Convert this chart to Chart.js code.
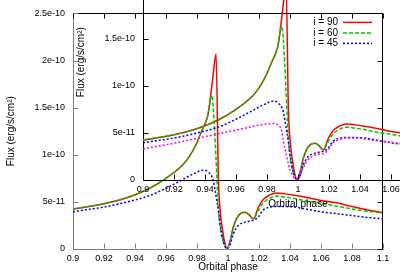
<!DOCTYPE html>
<html>
<head>
<meta charset="utf-8">
<script src="https://cdn.jsdelivr.net/npm/chart.js@4.4.1/dist/chart.umd.min.js"></script>
<style>
  html, body { margin: 0; padding: 0; background: #fff; overflow: hidden; }
  #wrap { position: relative; width: 400px; height: 279px; overflow: hidden; }
  #main { position: absolute; left: 0; top: 0; }
  #inset { position: absolute; left: 70px; top: -69px; }
</style>
</head>
<body>
<div id="wrap">
  <canvas id="main" width="400" height="279"></canvas>
  <canvas id="inset" width="400" height="279"></canvas>
</div>
<script>
// orbital phase samples, denser around the eclipse
var phase = [0.9, 0.91, 0.92, 0.93, 0.94, 0.95, 0.96, 0.97, 0.975, 0.98,
    0.983, 0.985, 0.987, 0.9895, 0.9905, 0.9923, 0.9938, 0.995, 0.9965, 0.998,
    0.9993, 1.001, 1.0034, 1.0066, 1.011, 1.0135, 1.0165, 1.0195, 1.0225, 1.026,
    1.031, 1.037, 1.043, 1.05, 1.06, 1.07, 1.08, 1.09, 1.1];

// flux, in units of 1e-11 erg/s/cm2
var flux90 = [4.25, 4.5, 4.8, 5.2, 5.75, 6.5, 7.5, 8.8, 9.8, 11.3,
    12.5, 13.2, 14.2, 17.2, 18.6, 20.7, 7.5, 4.0, 2.0, 0.6,
    0.05, 0.6, 2.3, 3.5, 3.9, 3.65, 3.2, 4.4, 5.2, 5.65,
    5.95, 5.85, 5.7, 5.5, 5.15, 4.9, 4.5, 4.15, 3.85];
var flux60 = [4.25, 4.5, 4.8, 5.2, 5.75, 6.5, 7.5, 8.8, 9.8, 11.3,
    12.5, 13.2, 14.2, 16.3, 15.0, 9.5, 4.2, 2.2, 1.0, 0.3,
    0.05, 0.6, 2.3, 3.5, 3.9, 3.65, 3.2, 4.1, 4.85, 5.3,
    5.6, 5.5, 5.35, 5.1, 4.85, 4.55, 4.25, 4.0, 3.8];
var flux45 = [3.95, 4.2, 4.45, 4.8, 5.2, 5.7, 6.45, 7.3, 7.75, 8.15,
    8.35, 8.35, 8.2, 7.7, 7.25, 5.6, 4.1, 2.6, 1.2, 0.3,
    0.05, 0.3, 1.6, 2.5, 2.85, 2.95, 3.05, 3.4, 4.1, 4.4,
    4.5, 4.5, 4.45, 4.25, 3.95, 3.75, 3.55, 3.35, 3.2];
// extra curve that only shows up in the inset
var fluxPink = [3.3, 3.6, 3.9, 4.25, 4.6, 4.95, 5.3, 5.65, 5.85, 5.95,
    6.0, 6.0, 5.85, 5.2, 4.2, 2.8, 1.7, 1.0, 0.5, 0.15,
    0.05, 0.3, 1.3, 2.2, 2.65, 2.75, 2.8, 3.2, 3.95, 4.25,
    4.45, 4.45, 4.35, 4.2, 4.0, 3.8, 3.6, 3.4, 3.2];

var xTicks = [0.9, 0.92, 0.94, 0.96, 0.98, 1, 1.02, 1.04, 1.06, 1.08, 1.1];
var yTicks = [0, 5e-11, 1e-10, 1.5e-10, 2e-10, 2.5e-10];
var FLUX_UNIT = 1e-11;

Chart.defaults.font.family = '"Liberation Sans", Arial, sans-serif';
Chart.defaults.font.size = 10;
Chart.defaults.color = '#000';

function pts(values) {
    return phase.map(function (p, i) {
        return { x: p, y: values[i] * FLUX_UNIT };
    });
}

function seriesList(withPink) {
    var list = [
        { label: 'i = 90', data: pts(flux90), borderColor: '#ff0000', borderWidth: 1.5, order: 4 },
        { label: 'i = 60', data: pts(flux60), borderColor: '#00c800', borderWidth: 1.5, borderDash: [4, 2], order: 3 },
        { label: 'i = 45', data: pts(flux45), borderColor: '#0000ff', borderWidth: 1.5, borderDash: [2, 2], order: 2 }
    ];
    if (withPink) {
        list.push({ label: '', data: pts(fluxPink), borderColor: '#ff00ff', borderWidth: 1.5, borderDash: [2, 2], order: 1 });
    }
    return list;
}

// inward tick marks and the extra frame sides, gnuplot style
var tics = {
    id: 'tics',
    afterDraw: function (chart, args, opts) {
        var ctx = chart.ctx, a = chart.chartArea;
        var sx = chart.scales.x, sy = chart.scales.y;
        var len = 5;
        ctx.save();
        ctx.lineWidth = 1;
        function line(x1, y1, x2, y2, c) {
            ctx.strokeStyle = c;
            ctx.beginPath();
            ctx.moveTo(x1, y1);
            ctx.lineTo(x2, y2);
            ctx.stroke();
        }
        var top = Math.round(a.top) + 0.5, bottom = Math.round(a.bottom) - 0.5;
        var left = Math.round(a.left) + 0.5, right = Math.round(a.right) - 0.5;
        if (opts.frame) {
            line(left, top, right + 0.5, top, opts.frame);
            line(right, top, right, bottom + 0.5, opts.frame);
        }
        sx.ticks.forEach(function (t) {
            var px = Math.round(sx.getPixelForValue(t.value)) + 0.5;
            line(px, bottom, px, bottom - len, opts.color);
            if (opts.frame) line(px, top, px, top + len, opts.frame);
        });
        sy.ticks.forEach(function (t) {
            var py = Math.round(sy.getPixelForValue(t.value)) + 0.5;
            line(left, py, left + len, py, opts.color);
            if (opts.frame) line(right, py, right - len, py, opts.frame);
        });
        ctx.restore();
    }
};

// key with the text on the left of the line sample
var keyBox = {
    id: 'keyBox',
    afterDraw: function (chart, args, opts) {
        if (!opts.show) return;
        var ctx = chart.ctx, a = chart.chartArea;
        ctx.save();
        ctx.font = '10px "Liberation Sans", Arial, sans-serif';
        ctx.textAlign = 'right';
        ctx.textBaseline = 'middle';
        ctx.fillStyle = '#000';
        chart.data.datasets.forEach(function (ds, i) {
            if (!ds.label) return;
            var yy = a.top + 9 + i * 10.5;
            ctx.fillText(ds.label, a.right - 45, yy);
            ctx.strokeStyle = ds.borderColor;
            ctx.lineWidth = ds.borderWidth;
            ctx.setLineDash(ds.borderDash || []);
            ctx.beginPath();
            ctx.moveTo(a.right - 40, yy);
            ctx.lineTo(a.right - 11, yy);
            ctx.stroke();
        });
        ctx.restore();
    }
};

function makeChart(id, look) {
    var ctx = document.getElementById(id).getContext('2d');
    return new Chart(ctx, {
        type: 'line',
        data: { datasets: seriesList(look.pink) },
        options: {
            responsive: false,
            animation: false,
            devicePixelRatio: 1,
            layout: { padding: { left: 0, right: 17, top: 10, bottom: 0 } },
            elements: {
                point: { radius: 0 },
                line: { cubicInterpolationMode: 'monotone', fill: false }
            },
            plugins: {
                legend: { display: false },
                tooltip: { enabled: false },
                tics: { color: look.axis, frame: look.frame },
                keyBox: { show: look.key }
            },
            scales: {
                x: {
                    type: 'linear',
                    min: 0.9,
                    max: 1.1,
                    afterBuildTicks: function (s) {
                        s.ticks = xTicks.map(function (v) { return { value: v }; });
                    },
                    afterFit: function (s) { s.height = 30; },
                    grid: { display: false, drawTicks: false, tickLength: 0 },
                    border: { display: true, color: look.axis, width: 1 },
                    ticks: {
                        font: { size: 9 },
                        padding: 4,
                        maxRotation: 0,
                        autoSkip: false,
                        callback: function (v) { return String(Number(v.toFixed(2))); }
                    },
                    title: {
                        display: true,
                        text: 'Orbital phase',
                        font: { size: 10 },
                        padding: { top: 0, bottom: look.xTitlePad }
                    }
                },
                y: {
                    type: 'linear',
                    min: 0,
                    max: 2.5e-10,
                    afterBuildTicks: function (s) {
                        s.ticks = yTicks.map(function (v) { return { value: v }; });
                    },
                    afterFit: function (s) { s.width = 73; },
                    grid: { display: false, drawTicks: false, tickLength: 0 },
                    border: { display: true, color: look.axis, width: 1 },
                    ticks: {
                        font: { size: 9 },
                        padding: 8,
                        callback: function (v) {
                            return v === 0 ? '0' : Number(v.toPrecision(3)).toExponential();
                        }
                    },
                    title: {
                        display: true,
                        text: 'Flux (erg/s/cm²)',
                        font: { size: 10 },
                        padding: { top: 5, bottom: 0 }
                    }
                }
            }
        },
        plugins: [tics, keyBox]
    });
}

makeChart('main', { pink: false, axis: '#808080', frame: '#000', key: true, xTitlePad: 6 });
makeChart('inset', { pink: true, axis: '#000', frame: null, key: false, xTitlePad: 0 });
</script>
</body>
</html>
